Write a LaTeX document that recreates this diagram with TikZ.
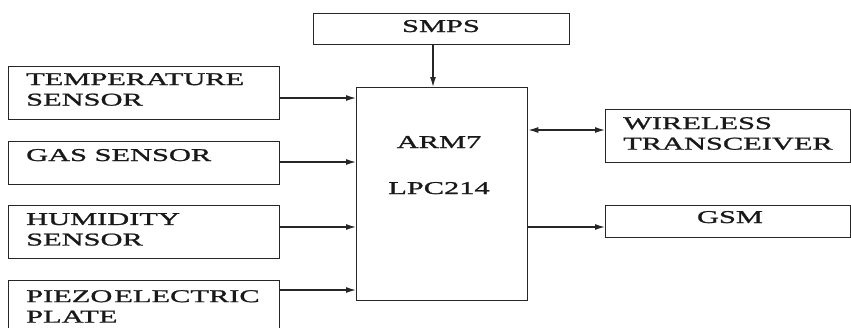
\documentclass[tikz,border=0pt]{standalone}
\usepackage{fontspec}
\setmainfont[FakeStretch=1.69,FakeBold=1.3]{Liberation Serif}
\usetikzlibrary{arrows.meta,calc}
\begin{document}
\begin{tikzpicture}[x=1pt,y=-1pt,
  blk/.style={draw=black!85,line width=1.3pt,inner sep=0pt,anchor=north west},
  lbl/.style={inner sep=0pt,align=left,text=black!90,font=\fontsize{18}{20.5}\selectfont},
  arr/.style={draw=black!85,line width=1.3pt,-{Latex[length=10pt,width=6pt]}},
  darr/.style={draw=black!85,line width=1.3pt,{Latex[length=10pt,width=6pt]}-{Latex[length=10pt,width=6pt]}}]
\clip (0,0) rectangle (851,327);
% boxes
\node[blk,minimum width=256pt,minimum height=31pt] (smps) at (313,13) {};
\node[blk,minimum width=171pt,minimum height=213pt] (arm) at (356,87) {};
\node[blk,minimum width=271pt,minimum height=53pt] (temp) at (8,66) {};
\node[blk,minimum width=271pt,minimum height=43pt] (gas) at (8,141) {};
\node[blk,minimum width=271pt,minimum height=53pt] (hum) at (8,205) {};
\node[blk,minimum width=271pt,minimum height=60pt] (piezo) at (8,280) {};
\node[blk,minimum width=245pt,minimum height=53pt] (wire) at (605,109) {};
\node[blk,minimum width=245pt,minimum height=32pt] (gsm) at (605,205) {};
% labels
\node[lbl,anchor=base] (tsmps) at (441,32) {SMPS};
\node[lbl,anchor=base] (tarm) at (439,148) {ARM7};
\node[lbl,anchor=base] (tlpc) at (439,194) {LPC214};
\node[lbl,anchor=north west] (ttemp) at (26,73) {TEMPERATURE\\SENSOR};
\node[lbl,anchor=base west] (tgas) at (26,161) {GAS SENSOR};
\node[lbl,anchor=north west] (thum) at (26,213) {HUMIDITY\\SENSOR};
\node[lbl,anchor=north west] (tpiezo) at (26,290) {PIEZO\kern2pt ELECTRIC\\PLATE};
\node[lbl,anchor=north west] (twire) at (623,117) {WIRELESS\\TRANSCEIVER};
\node[lbl,anchor=base] (tgsm) at (730,223) {GSM};
% connectors
\draw[arr] (smps.south -| 433,0) -- (arm.north -| 433,0);
\draw[arr] (temp.east |- 0,98) -- (arm.west |- 0,98);
\draw[arr] (gas.east |- 0,162) -- (arm.west |- 0,162);
\draw[arr] (hum.east |- 0,227) -- (arm.west |- 0,227);
\draw[arr] (piezo.east |- 0,290) -- (arm.west |- 0,290);
\draw[darr] (arm.east |- 0,130) -- (wire.west |- 0,130);
\draw[arr] (arm.east |- 0,227) -- (gsm.west |- 0,227);
\end{tikzpicture}
\end{document}
